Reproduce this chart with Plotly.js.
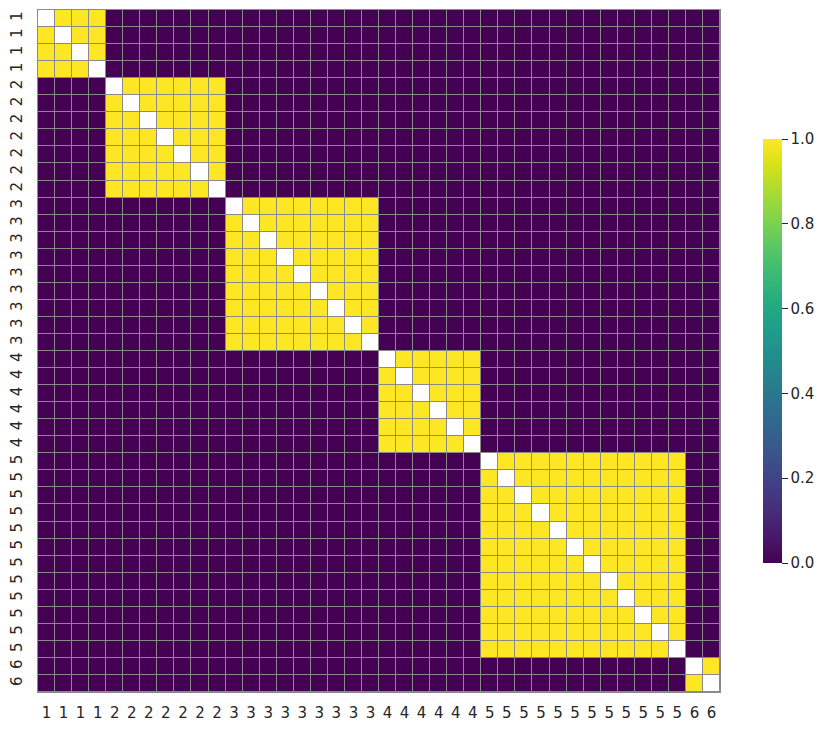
<!DOCTYPE html>
<html>
<head>
<meta charset="utf-8">
<script src="https://cdn.plot.ly/plotly-3.0.1.min.js"></script>
<style>html,body{margin:0;padding:0;background:#fff;}#chart{width:831px;height:730px;}</style>
</head>
<body>
<div id="chart"></div>
<script>
// Group label of each of the 40 rows/columns
const labels = ["1","1","1","1",
  "2","2","2","2","2","2","2",
  "3","3","3","3","3","3","3","3","3",
  "4","4","4","4","4","4",
  "5","5","5","5","5","5","5","5","5","5","5","5",
  "6","6"];
const colorTicks = [0, 0.2, 0.4, 0.6, 0.8, 1.0];
const colorTickText = ["0.0","0.2","0.4","0.6","0.8","1.0"];

const n = labels.length;
const idx = labels.map((_, i) => i);
// co-membership matrix: 1 when same group, diagonal is masked (blank)
const z = labels.map((a, i) => labels.map((b, j) => i === j ? null : (a === b ? 1 : 0)));
const diag = labels.map((a, i) => labels.map((b, j) => i === j ? 1 : null));

const grid = '#8a8a8a';
const txt = '#262626';
const traces = [
  {type: 'heatmap', x: idx, y: idx, z: z, zmin: 0, zmax: 1, colorscale: 'Viridis',
   xgap: 1, ygap: 1, hoverongaps: false,
   colorbar: {x: 1.063, xanchor: 'left', xpad: 0, y: 0.5, yanchor: 'middle', len: 0.651, lenmode: 'fraction',
     thickness: 19, outlinewidth: 0, ticks: 'outside', ticklen: 6, tickwidth: 1.2, tickcolor: txt,
     tickvals: colorTicks, ticktext: colorTickText, tickfont: {family: 'DejaVu Sans', size: 15, color: txt}}},
  {type: 'heatmap', x: idx, y: idx, z: diag, zmin: 0, zmax: 1, colorscale: [[0, '#ffffff'], [1, '#ffffff']],
   xgap: 1, ygap: 1, showscale: false, hoverongaps: false}
];
const layout = {
  width: 831, height: 730,
  margin: {l: 38, r: 111, t: 10, b: 38},
  paper_bgcolor: '#ffffff', plot_bgcolor: grid,
  xaxis: {range: [-0.5, n - 0.5], tickvals: idx, ticktext: labels, ticks: '', showgrid: false, zeroline: false,
    showline: true, mirror: true, linecolor: grid, linewidth: 1,
    tickfont: {family: 'DejaVu Sans', size: 15, color: txt}, tickangle: 0, ticklabelstandoff: 7},
  yaxis: {range: [n - 0.5, -0.5], tickvals: idx, ticktext: labels, ticks: '', showgrid: false, zeroline: false,
    showline: true, mirror: true, linecolor: grid, linewidth: 1,
    tickfont: {family: 'DejaVu Sans', size: 15, color: txt}, tickangle: -90, ticklabelstandoff: 9}
};
Plotly.newPlot('chart', traces, layout, {displayModeBar: false});
</script>
</body>
</html>
